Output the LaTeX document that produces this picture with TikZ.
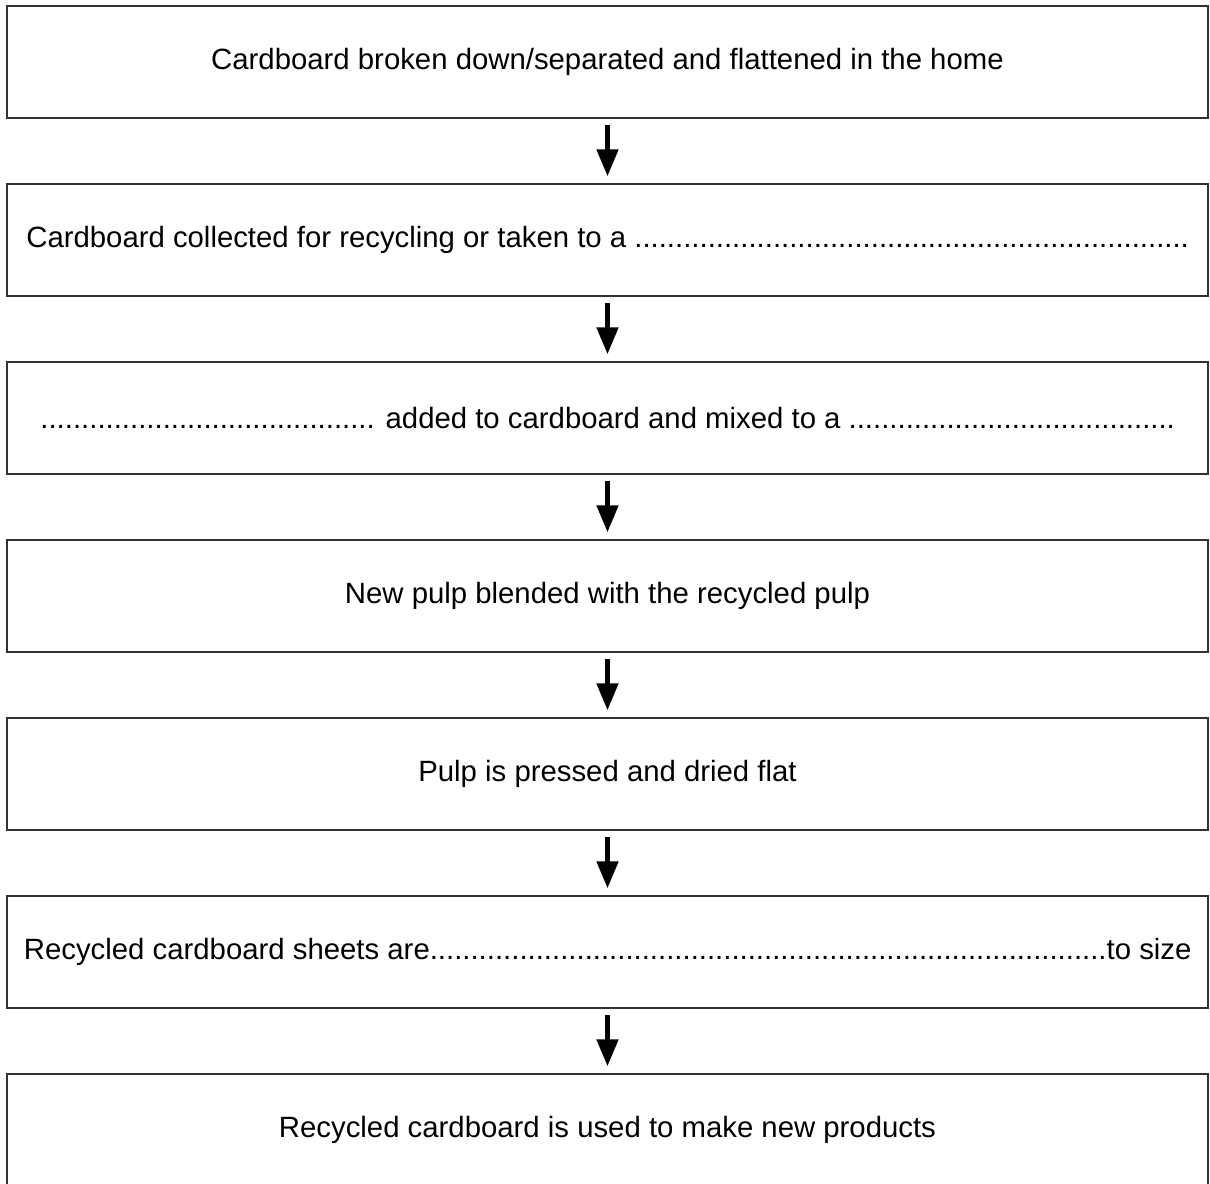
\documentclass[tikz,border=0pt]{standalone}
\usepackage{fontspec}
\setmainfont{Liberation Sans}
\usetikzlibrary{positioning,arrows.meta}

% row of dots left for an answer
\newcommand{\dotrun}[1]{\foreach \i in {1,...,#1}{.}}

\begin{document}
\begin{tikzpicture}[x=0.75pt, y=-0.75pt,
    stage/.style={draw=black!80, line width=1.1pt, minimum width=900.75pt,
      minimum height=84pt, inner sep=0pt, font=\fontsize{22}{26}\selectfont},
    flow/.style={-{Triangle[width=15.75pt,length=20.25pt]}, line width=3.75pt,
      shorten >=5.25pt, shorten <=4.5pt},
    node distance=48.4pt]
  \useasboundingbox (0,0) rectangle (1210,1183);
  % stages of the process
  \node[stage] (home) at (607.5,62)
    {Cardboard broken down/separated and flattened in the home};
  \node[stage, below=of home] (collect)
    {Cardboard collected for recycling or taken to a \dotrun{68}};
  \node[stage, below=of collect] (mix)
    {\dotrun{41} added to cardboard and mixed to a \dotrun{40}};
  \node[stage, below=of mix] (blend)
    {New pulp blended with the recycled pulp};
  \node[stage, below=of blend] (press)
    {Pulp is pressed and dried flat};
  \node[stage, below=of press] (cut)
    {Recycled cardboard sheets are\dotrun{83}to size};
  \node[stage, below=of cut] (reuse)
    {Recycled cardboard is used to make new products};
  % arrows between stages
  \foreach \a/\b in {home/collect, collect/mix, mix/blend, blend/press, press/cut, cut/reuse}
    \draw[flow] (\a) -- (\b);
\end{tikzpicture}
\end{document}
